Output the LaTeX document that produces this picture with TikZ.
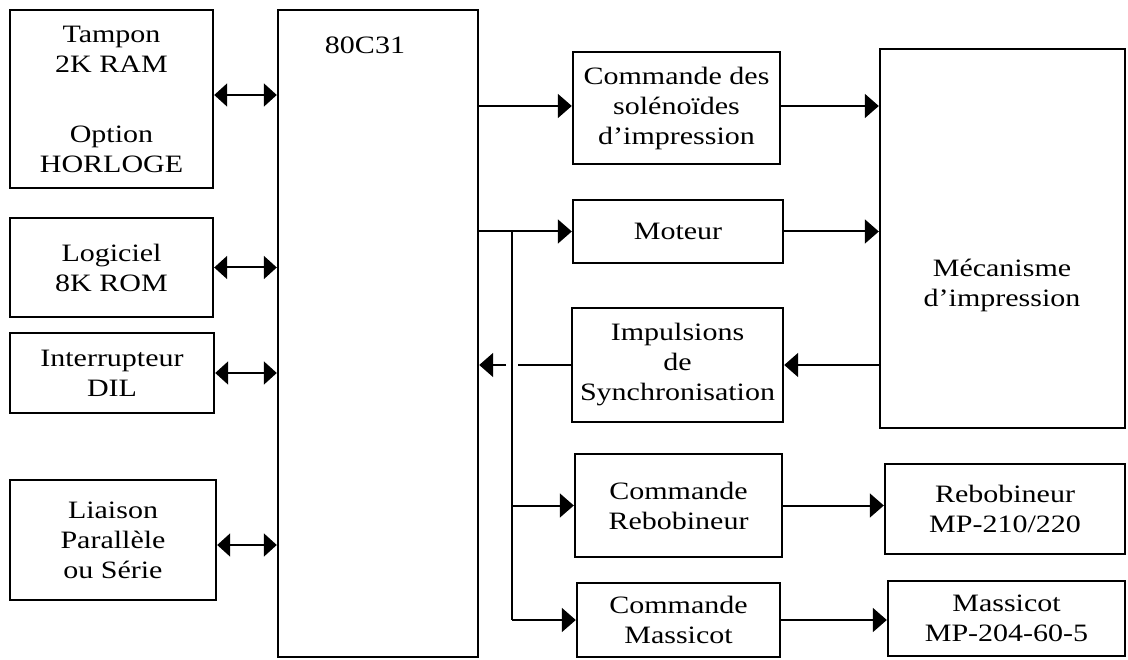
\documentclass[tikz,border=0pt]{standalone}
\usepackage{fontspec}
\setmainfont{Liberation Serif}[FakeStretch=1.2]
\usetikzlibrary{arrows.meta,calc}
\begin{document}
\begin{tikzpicture}[x=1pt,y=-1pt,
  box/.style={draw,line width=2.4pt,rectangle,inner sep=0pt,align=center,
    font=\fontsize{25}{30}\selectfont},
  txt/.style={inner sep=0pt,align=center,font=\fontsize{25}{30}\selectfont},
  arr/.style={line width=2pt,-{Triangle[length=14pt,width=24pt]}},
  dbl/.style={line width=2pt,{Triangle[length=13pt,width=23pt]}-{Triangle[length=13pt,width=23pt]}},
  ln/.style={line width=2pt}]
\useasboundingbox (0,0) rectangle (1128,660);
% left column
\node[box,minimum width=203pt,minimum height=178pt] (tampon) at (111.5,99)
  {Tampon\\2K RAM\\[40pt]Option\\HORLOGE};
\node[box,minimum width=203pt,minimum height=99pt] (logiciel) at (111.5,267.5)
  {Logiciel\\8K ROM};
\node[box,minimum width=204pt,minimum height=80pt] (inter) at (112,373)
  {Interrupteur\\DIL};
\node[box,minimum width=206pt,minimum height=120pt] (liaison) at (113,540)
  {Liaison\\Parallèle\\ou Série};
% processor
\node[box,minimum width=200pt,minimum height=647pt] (cpu) at (378,333.5) {};
\node[txt] (cputxt) at (365,45) {80C31};
% middle column
\node[box,minimum width=207pt,minimum height=112pt] (sol) at (676.5,108)
  {Commande des\\solénoïdes\\d’impression};
\node[box,minimum width=210pt,minimum height=63pt] (mot) at (678,231.5) {Moteur};
\node[box,minimum width=211pt,minimum height=114pt] (imp) at (677.5,365)
  {Impulsions\\de\\Synchronisation};
\node[box,minimum width=207pt,minimum height=103pt] (crb) at (678.5,505.5)
  {Commande\\Rebobineur};
\node[box,minimum width=203pt,minimum height=74pt] (cms) at (678.5,620)
  {Commande\\Massicot};
% right column
\node[box,minimum width=245pt,minimum height=379pt] (mec) at (1002.5,238.5) {};
\node[txt] (mectxt) at (1002,285) {Mécanisme\\d’impression};
\node[box,minimum width=240pt,minimum height=90pt] (reb) at (1005,509)
  {Rebobineur\\MP-210/220};
\node[box,minimum width=237pt,minimum height=75pt] (mas) at (1006.5,618.5)
  {Massicot\\MP-204-60-5};
% left bidirectional links
\draw[dbl] ([yshift=4pt]tampon.east) -- ([yshift=4pt]tampon.east -| cpu.west);
\draw[dbl] (logiciel.east) -- (logiciel.east -| cpu.west);
\draw[dbl] (inter.east) -- (inter.east -| cpu.west);
\draw[dbl] ([yshift=-5pt]liaison.east) -- ([yshift=-5pt]liaison.east -| cpu.west);
% outputs of the processor
\draw[arr] ([yshift=2pt]sol.west -| cpu.east) -- ([yshift=2pt]sol.west);
\draw[arr] (mot.west -| cpu.east) -- (mot.west);
\coordinate (trunktop) at (512,231.5);
\coordinate (gapR) at (518,365);
\coordinate (gapL) at (506,365);
\draw[ln] (trunktop) -- (trunktop |- cms.west);
\draw[arr] (crb.west -| trunktop) -- (crb.west);
\draw[arr] (cms.west -| trunktop) -- (cms.west);
% synchronisation back to processor (interrupted at the crossing)
\draw[ln] (imp.west) -- (gapR);
\draw[arr] (gapL) -- (gapL -| cpu.east);
% to the mechanism and peripherals
\draw[arr] ([yshift=2pt]sol.east) -- ([yshift=2pt]sol.east -| mec.west);
\draw[arr] (mot.east) -- (mot.east -| mec.west);
\draw[arr] (imp.east -| mec.west) -- (imp.east);
\draw[arr] (crb.east) -- (crb.east -| reb.west);
\draw[arr] (cms.east) -- (cms.east -| mas.west);
\end{tikzpicture}
\end{document}
